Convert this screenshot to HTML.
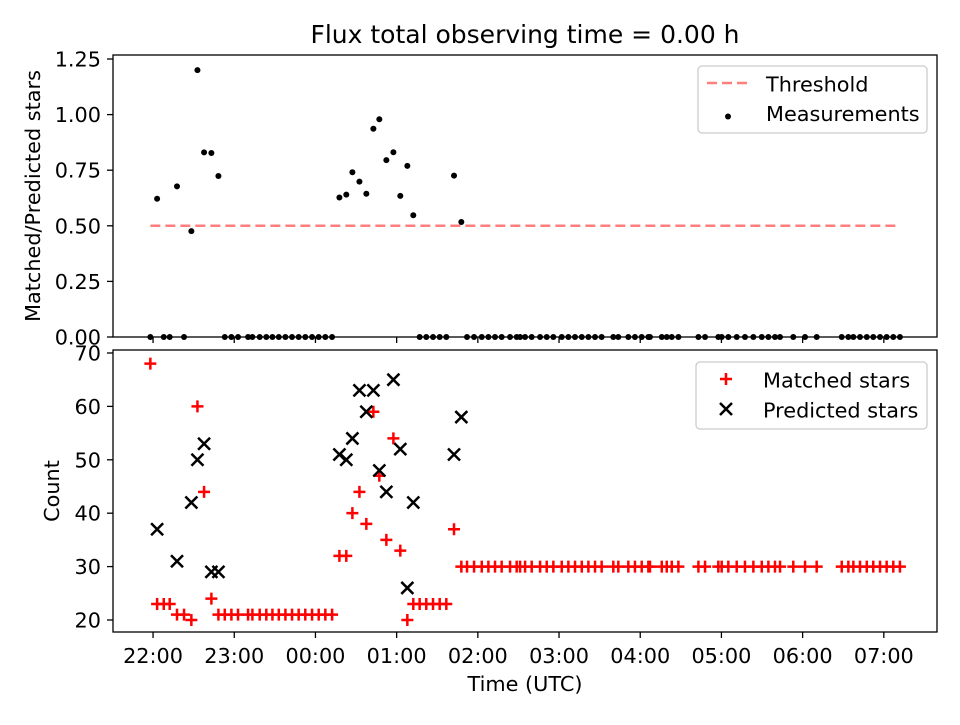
<!DOCTYPE html>
<html><head><meta charset="utf-8"><style>
body{margin:0;background:#fff}
svg{font-family:"DejaVu Sans","Liberation Sans",sans-serif}
</style></head><body>
<svg id="chart" width="960" height="720" xmlns="http://www.w3.org/2000/svg">
<rect width="960" height="720" fill="#fff"/>
<text x="525" y="43" text-anchor="middle" font-size="25">Flux total observing time = 0.00 h</text>
<g id="topPanel"></g><g id="botPanel"></g>
</svg>
<script>
// minutes after 22:00 UTC
const times=[-2.0,3.0,7.9,12.3,17.7,22.9,28.3,32.8,37.7,43.1,48.3,
53.0,57.9,62.8,70.2,73.4,78.8,83.7,88.2,92.9,97.8,102.7,107.6,112.5,117.5,122.4,127.3,132.3,
137.7,142.8,147.3,152.5,157.6,162.8,167.2,172.4,177.6,182.7,187.9,192.3,
197.0,201.9,206.9,211.8,216.7,222.4,227.8,
232.0,237.2,242.9,247.8,252.7,257.6,263.8,268.7,271.2,274.9,279.8,286.0,290.9,295.8,302.0,306.9,311.8,316.8,321.7,326.6,331.5,340.1,343.8,351.2,356.1,361.1,366.0,367.2,375.9,379.6,383.3,388.2,403.0,407.9,417.7,420.2,425.1,431.3,437.4,443.6,449.8,454.7,459.6,463.3,473.1,481.8,490.4,508.9,513.8,517.5,522.4,527.4,532.2,537.2,542.1,547.0,551.9];
const matched=[68,23,23,23,21,21,20,60,44,24,21,
21,21,21,21,21,21,21,21,21,21,21,21,21,21,21,21,21,
32,32,40,44,38,59,47,35,54,33,20,23,
23,23,23,23,23,37,30,
30,30,30,30,30,30,30,30,30,30,30,30,30,30,30,30,30,30,30,30,30,30,30,30,30,30,30,30,30,30,30,30,30,30,30,30,30,30,30,30,30,30,30,30,30,30,30,30,30,30,30,30,30,30,30,30,30];
const predicted=[null,37,null,null,31,null,42,50,53,29,29,
null,null,null,null,null,null,null,null,null,null,null,null,null,null,null,null,null,
51,50,54,63,59,63,48,44,65,52,26,42,
null,null,null,null,null,51,58];
const threshold=0.5;
const xTickLabels=["22:00","23:00","00:00","01:00","02:00","03:00","04:00","05:00","06:00","07:00"];
const topTicks=["0.00","0.25","0.50","0.75","1.00","1.25"];
const botTicks=[20,30,40,50,60,70];

const NS="http://www.w3.org/2000/svg";
const L=113,R=937;
const xMin=-29.6,xMax=579.3;
const X=m=>L+(m-xMin)/(xMax-xMin)*(R-L);
const T0=55,T1=337,tyMin=0,tyMax=1.268;
const YT=v=>T1-(v-tyMin)/(tyMax-tyMin)*(T1-T0);
const B0=350,B1=632,byMin=17.75,byMax=70.56;
const YB=v=>B1-(v-byMin)/(byMax-byMin)*(B1-B0);
function mk(tag,attrs,parent,txt){const e=document.createElementNS(NS,tag);for(const k in attrs)e.setAttribute(k,attrs[k]);if(txt!==undefined)e.textContent=txt;parent.appendChild(e);return e;}
const topG=document.getElementById('topPanel'),botG=document.getElementById('botPanel');
const ratio=times.map((t,i)=>predicted[i]?matched[i]/predicted[i]:0);

let e=mk('line',{x1:X(times[0]),x2:X(times[times.length-1]),y1:YT(threshold),y2:YT(threshold),stroke:'#ff7f7f','stroke-width':2.5,'stroke-dasharray':'10,5'},topG);


times.forEach((t,i)=>{const c=mk('circle',{cx:X(t),cy:YT(ratio[i]),r:3,fill:'#000'},topG);

});
times.forEach((t,i)=>{const x=X(t),y=YB(matched[i]),s=6;const p=mk('path',{d:`M${x-s},${y}H${x+s}M${x},${y-s}V${y+s}`,stroke:'#f00','stroke-width':2.5,fill:'none'},botG);

});
times.forEach((t,i)=>{if(predicted[i]==null)return;const x=X(t),y=YB(predicted[i]),s=6;const p=mk('path',{d:`M${x-s},${y-s}L${x+s},${y+s}M${x-s},${y+s}L${x+s},${y-s}`,stroke:'#000','stroke-width':2.5,fill:'none'},botG);

});

[[T0,T1,topG,'top'],[B0,B1,botG,'bottom']].forEach(([a,b,g,n])=>{
 const r=mk('rect',{x:L,y:a,width:R-L,height:b-a,fill:'none',stroke:'#000','stroke-width':1.3},g);
 
 
 xTickLabels.forEach((lab,i)=>{const x=X(i*60);mk('line',{x1:x,x2:x,y1:b,y2:b+6,stroke:'#000','stroke-width':1.3},g);
  if(n==='bottom'){const t=mk('text',{x:x,y:663,'text-anchor':'middle','font-size':20.8},g,lab);
  
  }});
});
topTicks.forEach(l=>{const y=YT(parseFloat(l));mk('line',{x1:L-6,x2:L,y1:y,y2:y,stroke:'#000','stroke-width':1.3},topG);
 const t=mk('text',{x:101,y:y+7.5,'text-anchor':'end','font-size':20.8},topG,l);
 
 });
botTicks.forEach(v=>{const y=YB(v);mk('line',{x1:L-6,x2:L,y1:y,y2:y,stroke:'#000','stroke-width':1.3},botG);
 const t=mk('text',{x:101,y:y+7.5,'text-anchor':'end','font-size':20.8},botG,String(v));
 
 });
</script>
<svg style="position:absolute;left:0;top:0" width="960" height="720" xmlns="http://www.w3.org/2000/svg" font-family="DejaVu Sans, Liberation Sans, sans-serif">
<text transform="translate(40,196) rotate(-90)" text-anchor="middle" font-size="20.8">Matched/Predicted stars</text>
<text transform="translate(59,491) rotate(-90)" text-anchor="middle" font-size="20.8">Count</text>
<text x="525" y="691" text-anchor="middle" font-size="20.8">Time (UTC)</text>
<g>
<rect x="698" y="66" width="229" height="67" rx="4" fill="#fff" fill-opacity="0.8" stroke="#ccc" stroke-width="1.3"/>
<line x1="707" x2="748" y1="83" y2="83" stroke="#ff7f7f" stroke-width="2.5" stroke-dasharray="10,5"/>
<text x="766" y="91.5" font-size="20.8">Threshold</text>
<circle cx="728" cy="116.5" r="3" fill="#000"/>
<text x="766" y="121" font-size="20.8">Measurements</text>
</g>
<g>
<rect x="696" y="362" width="231" height="67" rx="4" fill="#fff" fill-opacity="0.8" stroke="#ccc" stroke-width="1.3"/>
<path d="M720,379H732M726,373V385" stroke="#f00" stroke-width="2.5"/>
<text x="763" y="387.5" font-size="20.8">Matched stars</text>
<path d="M720,403L732,415M720,415L732,403" stroke="#000" stroke-width="2.5"/>
<text x="763" y="417.5" font-size="20.8">Predicted stars</text>
</g>
</svg>
</body></html>
